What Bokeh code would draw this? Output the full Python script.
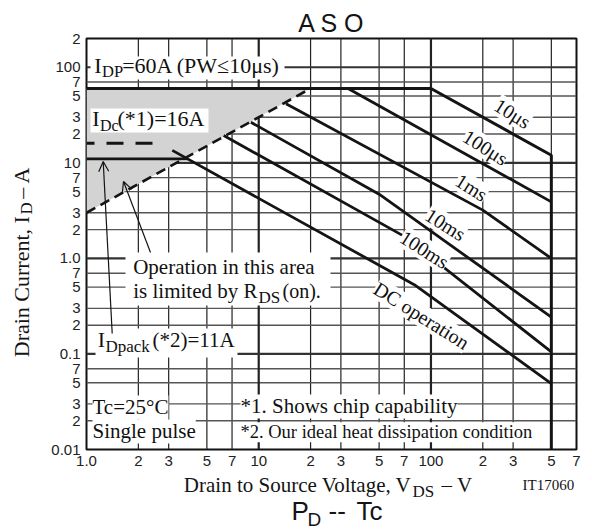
import math
from bokeh.plotting import figure
from bokeh.layouts import column, row
from bokeh.models import Range1d, FixedTicker, Label, Arrow, OpenHead, Title
from bokeh.core.properties import value
from bokeh.embed import file_html
from bokeh.resources import INLINE

# ---------------- data ----------------
v_ticks = [1, 2, 3, 5, 7, 10, 20, 30, 50, 70, 100, 200, 300, 500, 700]
v_tick_labels = ["1.0", "2", "3", "5", "7", "10", "2", "3", "5", "7", "100", "2", "3", "5", "7"]
i_ticks = [0.01, 0.02, 0.03, 0.05, 0.07, 0.1, 0.2, 0.3, 0.5, 0.7, 1, 2, 3, 5, 7,
           10, 20, 30, 50, 70, 100, 200]
i_tick_labels = ["0.01", "2", "3", "5", "7", "0.1", "2", "3", "5", "7", "1.0", "2", "3", "5", "7",
                 "10", "2", "3", "5", "7", "100", "2"]

idp_v = [1, 100]            # I_DP = 60 A pulse limit
idp_i = [60, 60]
us10_v = [100, 500, 500]    # 10 us
us10_i = [60, 12, 0.01]
us100_v = [33, 500]         # 100 us
us100_i = [60, 3.9]
ms1_v = [14.4, 200, 500]    # 1 ms
ms1_i = [41.5, 3.2, 1.0]
ms10_v = [9.0, 50, 500]     # 10 ms
ms10_i = [26.6, 4.7, 0.243]
ms100_v = [6.26, 70, 500]   # 100 ms
ms100_i = [19.3, 1.7, 0.105]
dc_v = [3.15, 80, 500]      # DC operation
dc_i = [13.5, 0.53, 0.049]
rds_v = [1, 20]             # R_DS(on) limit
rds_i = [3.0, 60]
idc_v = [1, 2.6]            # I_Dc = 16 A
idc_i = [16, 16]
idpack_v = [1, 3.9]         # I_Dpack = 11 A
idpack_i = [11, 11]

# ---------------- layout geometry (page pixels) ----------------
XMIN, XMAX, YMIN, YMAX = 1, 700, 0.01, 200
FL, FR, FT, FB = 86, 576, 38, 449   # chart frame edges
LEFT_W = 44
PAGE_W, PAGE_H = 592, 529
MAIN_W = PAGE_W - LEFT_W
MAIN_H = FB + 23
BOT_H = PAGE_H - MAIN_H
C = "#141414"
MID = 0.3375   # distance (in em) from the em-box middle down to the baseline


def at(px, py):
    lx = math.log10(XMIN) + (px - FL) / (FR - FL) * math.log10(XMAX / XMIN)
    ly = math.log10(YMAX) - (py - FT) / (FB - FT) * math.log10(YMAX / YMIN)
    return 10 ** lx, 10 ** ly


p = figure(width=MAIN_W, height=MAIN_H, x_axis_type="log", y_axis_type="log",
           x_range=Range1d(XMIN, XMAX), y_range=Range1d(YMIN, YMAX), title=None,
           output_backend="svg", toolbar_location=None,
           min_border_left=FL - LEFT_W, min_border_right=PAGE_W - FR,
           min_border_top=FT, min_border_bottom=MAIN_H - FB)
p.background_fill_color = "white"
p.border_fill_color = "white"
p.outline_line_color = "#111111"
p.outline_line_width = 2
p.grid.visible = False
p.add_layout(Title(text="A S O", align="center", text_font="Liberation Sans",
                   text_font_size="25px", text_font_style="normal", text_color=C,
                   standoff=4), "above")


def style_axis(ax, ticks, labels, standoff):
    ax.ticker = FixedTicker(ticks=ticks)
    ax.major_label_overrides = {t: s for t, s in zip(ticks, labels)}
    ax.axis_line_color = None
    ax.major_tick_line_color = None
    ax.minor_tick_line_color = None
    ax.major_tick_in = 0
    ax.major_tick_out = 0
    ax.major_label_standoff = standoff
    ax.major_label_text_font = "Liberation Sans"
    ax.major_label_text_font_size = "15px"
    ax.major_label_text_color = "#222222"


style_axis(p.yaxis[0], i_ticks, i_tick_labels, 6)
style_axis(p.xaxis[0], v_ticks, v_tick_labels, 6)


def is_decade(t):
    return abs(math.log10(t) - round(math.log10(t))) < 1e-9


v_minor = [t for t in v_ticks if not is_decade(t) and XMIN < t < XMAX]
v_major = [t for t in v_ticks if is_decade(t) and XMIN < t < XMAX]
i_minor = [t for t in i_ticks if not is_decade(t) and YMIN < t < YMAX]
i_major = [t for t in i_ticks if is_decade(t) and YMIN < t < YMAX]

# grid lines
p.segment(x0=v_minor, x1=v_minor, y0=[YMIN] * len(v_minor), y1=[YMAX] * len(v_minor),
          line_color="#222222", line_width=1.2)
p.segment(x0=[XMIN] * len(i_minor), x1=[XMAX] * len(i_minor), y0=i_minor, y1=i_minor,
          line_color="#555555", line_width=1.4)
p.segment(x0=v_major, x1=v_major, y0=[YMIN] * len(v_major), y1=[YMAX] * len(v_major),
          line_color="#222222", line_width=2.2)
p.segment(x0=[XMIN] * len(i_major), x1=[XMAX] * len(i_major), y0=i_major, y1=i_major,
          line_color="#333333", line_width=2.2)

# shaded R_DS(on) region
p.patch(rds_v + [rds_v[0]], rds_i + [idp_i[0]], fill_color="#d3d3d3", line_color=None)


def box(x0, y0, x1, y1):
    l, t = at(x0, y0)
    r, b = at(x1, y1)
    p.quad(left=l, right=r, top=t, bottom=b, fill_color="white", line_color=None)


box(90, 56, 284, 79)
box(90, 108, 208, 132)
box(125, 252, 330, 305)
box(95, 328, 237, 357)

# curves
p.line(idp_v, idp_i, line_color=C, line_width=3)
p.line(us10_v, us10_i, line_color=C, line_width=3)
p.line(us100_v, us100_i, line_color=C, line_width=2.8)
p.line(ms1_v, ms1_i, line_color=C, line_width=2.8)
p.line(ms10_v, ms10_i, line_color=C, line_width=2.8)
p.line(ms100_v, ms100_i, line_color=C, line_width=2.8)
p.line(dc_v, dc_i, line_color=C, line_width=2.8)
p.line(idpack_v, idpack_i, line_color=C, line_width=2.8)
p.line(rds_v, rds_i, line_color=C, line_width=2.6, line_dash="10 6")
p.line(idc_v, idc_i, line_color=C, line_width=3, line_dash="17 12", line_dash_offset=9)


def txt(px, py, s, size=21, font="Liberation Serif", base=True, **kw):
    """Text whose baseline sits at page pixel (px, py) (or centred there if base=False)."""
    if base:
        py = py - MID * size
    x, y = at(px, py)
    kw.setdefault("text_align", "left")
    p.add_layout(Label(x=x, y=y, text=s, text_font=font, text_baseline="middle",
                       text_font_size=f"{size}px", text_color="#111111", **kw))


txt(101, 72.7, "I", 22, text_align="right")
txt(101.5, 77, "DP", 16.5)
txt(121.7, 72.7, "=60A (PW≤10μs)", 22)

txt(99, 125, "I", 22, text_align="right")
txt(99.5, 130, "Dc", 16)
txt(117, 125, "(*1)=16A", 22)

txt(132.7, 273.3, "Operation in this area")
txt(257, 298, "is limited by R", text_align="right")
txt(258, 302.5, "DS", 17)
txt(282, 297, "(on).", 20)

txt(104.5, 346.7, "I", 22, text_align="right")
txt(105, 352, "Dpack", 17)
txt(152, 346.7, "(*2)=11A", 21)

WB = dict(background_fill_color="white")
txt(92, 414, "Tc=25°C", **WB)
txt(92, 438, "Single pulse", **WB)
txt(240, 413, "*1. Shows chip capability", **WB)
txt(240, 438, "*2. Our ideal heat dissipation condition", 18.5, **WB)

ang = -0.56
for s, cx, cy in (("10μs", 512, 113), ("100μs", 485, 147), ("1ms", 471, 187),
                  ("10ms", 445, 224), ("100ms", 424, 249), ("DC operation", 421, 315)):
    txt(cx, cy, s, 20, base=False, angle=ang, text_align="center", **WB)

for (x0, y0), (x1, y1) in (((150, 252), (123, 181)), ((111.7, 333), (102.7, 161))):
    xs, ys = at(x0, y0)
    xe, ye = at(x1, y1)
    p.add_layout(Arrow(end=OpenHead(size=10, line_width=1.2, line_color=C),
                       x_start=xs, y_start=ys, x_end=xe, y_end=ye,
                       line_width=1.2, line_color=C))


# ---------------- text panels around the chart ----------------
def text_fig(w, h, x0, y0):
    f = figure(width=w, height=h, x_range=Range1d(x0, x0 + w), y_range=Range1d(y0 + h, y0),
               min_border=0, x_axis_location=None, y_axis_location=None, title=None,
               output_backend="svg", toolbar_location=None, outline_line_color=None)
    f.grid.visible = False
    f.background_fill_color = "white"
    f.border_fill_color = "white"
    return f


def ftxt(f, x, y, s, size, font="Liberation Serif", rotated=False, align="left"):
    """Text with its baseline through page pixel (x, y)."""
    if rotated:
        x = x - MID * size
    else:
        y = y - MID * size
    f.text(x=[x], y=[y], text=[s], text_font=value(font), text_font_size=value(f"{size}px"),
           text_align=value(align), text_baseline=value("middle"),
           angle=math.pi / 2 if rotated else 0.0, text_color=C)


left = text_fig(LEFT_W, MAIN_H, 0, 0)
ftxt(left, 28, 204, "Drain Current, I", 22, rotated=True, align="right")
ftxt(left, 32, 202, "D", 17, rotated=True)
ftxt(left, 28, 184, "– A", 22, rotated=True)

bot = text_fig(PAGE_W, BOT_H, 0, MAIN_H)
ftxt(bot, 411, 492, "Drain to Source Voltage, V", 21, align="right")
ftxt(bot, 412, 497, "DS", 17)
ftxt(bot, 472, 492, "– V", 21, align="right")
ftxt(bot, 522, 490, "IT17060", 15)
ftxt(bot, 291, 519, "P", 26, "Liberation Sans")
ftxt(bot, 307, 525, "D", 19, "Liberation Sans")
ftxt(bot, 328, 519, "--", 26, "Liberation Sans")
ftxt(bot, 356, 519, "Tc", 26, "Liberation Sans")

layout = column(row(left, p), bot)
open("out.html", "w").write(file_html(layout, INLINE))
